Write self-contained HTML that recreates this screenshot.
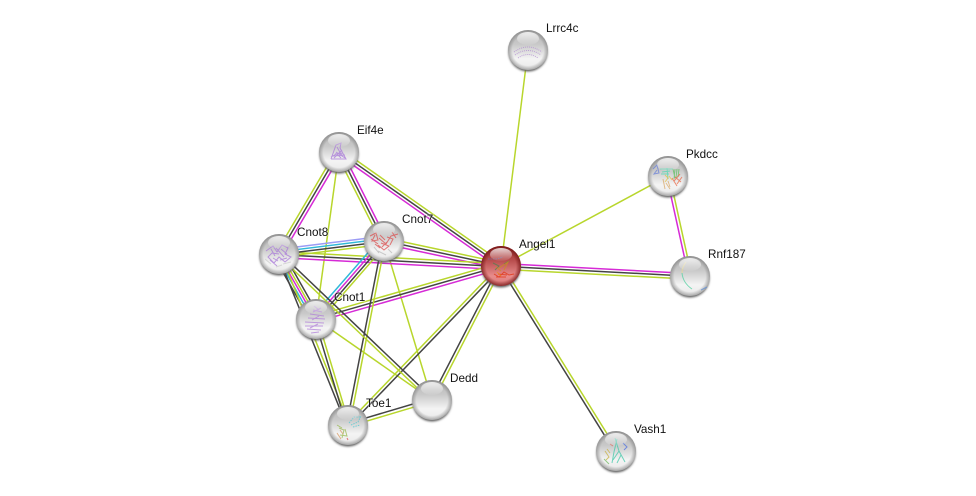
<!DOCTYPE html>
<html><head><meta charset="utf-8"><style>
html,body{margin:0;padding:0;background:#fff}
svg{display:block}
text{font:11.7px "Liberation Sans",sans-serif;fill:#111;paint-order:stroke;stroke:rgba(255,255,255,.4);stroke-width:1.5px}
.e path,.e line{fill:none;stroke-width:1.5}
.g{stroke:#b8d62c}.k{stroke:#444}.m{stroke:#d62ad6}.c{stroke:#2fb8d8}.p{stroke:#9c9cf5}
.s path{fill:none;stroke-width:1;opacity:.75}
</style></head><body>
<svg width="976" height="496" viewBox="0 0 976 496" xmlns="http://www.w3.org/2000/svg">
<defs>
<linearGradient id="b" x1="0" y1="0" x2="0" y2="1"><stop offset="0" stop-color="#b4b4b4"/><stop offset=".35" stop-color="#c8c8c8"/><stop offset=".72" stop-color="#f4f4f4"/><stop offset="1" stop-color="#e8e8e8"/></linearGradient>
<linearGradient id="r" x1="0" y1="0" x2="0" y2="1"><stop offset="0" stop-color="#983030"/><stop offset=".35" stop-color="#b84c4c"/><stop offset=".75" stop-color="#e88c8c"/><stop offset="1" stop-color="#d87878"/></linearGradient>
<radialGradient id="ed" cx=".5" cy=".5" r=".5"><stop offset=".78" stop-color="#666" stop-opacity="0"/><stop offset="1" stop-color="#666" stop-opacity=".5"/></radialGradient>
<radialGradient id="edr" cx=".5" cy=".5" r=".5"><stop offset=".75" stop-color="#701010" stop-opacity="0"/><stop offset="1" stop-color="#701010" stop-opacity=".75"/></radialGradient>
<linearGradient id="h" x1="0" y1="0" x2="0" y2="1"><stop offset="0" stop-color="#fff" stop-opacity=".8"/><stop offset="1" stop-color="#fff" stop-opacity=".05"/></linearGradient>
<filter id="bl" x="-30%" y="-30%" width="160%" height="160%"><feGaussianBlur stdDeviation="1"/></filter>
<filter id="sf" x="-20%" y="-20%" width="140%" height="140%"><feGaussianBlur stdDeviation=".35"/></filter>
<g id="base"><circle cx="0" cy="2" r="19.5" fill="#5c5c5c" filter="url(#bl)"/><circle r="20" fill="url(#b)"/><circle r="20" fill="url(#ed)"/></g>
<g id="gloss"><ellipse cx="0" cy="-11.5" rx="11" ry="6.5" fill="url(#h)"/></g>
</defs>
<g class="e">
<line class="g" x1="501" y1="266" x2="528" y2="50"/>
<line class="g" x1="501" y1="266" x2="668" y2="176"/>
<line class="g" x1="384" y1="241" x2="432" y2="400"/>
<line class="g" x1="316" y1="319" x2="432" y2="400"/>
<line class="g" x1="339" y1="152" x2="316" y2="319"/>
<g transform="translate(339 152) rotate(35.13)"><path class="g" d="M0-3.2H198"/><path class="k" d="M0-.3H198"/><path class="m" d="M0 2.6H198"/></g>
<g transform="translate(384 241) rotate(12.06)"><path class="g" d="M0-3.2H120"/><path class="k" d="M0-.2H120"/><path class="m" d="M0 2.8H120"/></g>
<g transform="translate(279 254) rotate(3.09)"><path class="g" d="M0-2.4H222"/><path class="k" d="M0 .6H222"/><path class="m" d="M0 3.6H222"/></g>
<g transform="translate(316 319) rotate(-15.99)"><path class="g" d="M0-3.2H192"/><path class="k" d="M0-.2H192"/><path class="m" d="M0 2.8H192"/></g>
<g transform="translate(348 425) rotate(-46.1)"><path class="g" d="M0-1.5H221"/><path class="k" d="M0 1.5H221"/></g>
<g transform="translate(432 400) rotate(-62.76)"><path class="k" d="M0-1.5H151"/><path class="g" d="M0 1.5H151"/></g>
<g transform="translate(501 266) rotate(58.13)"><path class="g" d="M0-1.5H218"/><path class="k" d="M0 1.5H218"/></g>
<g transform="translate(501 266) rotate(3.03)"><path class="m" d="M0-2.5H189"/><path class="k" d="M0 .2H189"/><path class="g" d="M0 3.2H189"/></g>
<g transform="translate(668 176) rotate(77.59)"><path class="g" d="M0-1.6H102"/><path class="m" d="M0 1.4H102"/></g>
<g transform="translate(279 254) rotate(-59.53)"><path class="g" d="M0-3H118"/><path class="k" d="M0 0H118"/><path class="m" d="M0 3H118"/></g>
<g transform="translate(339 152) rotate(63.18)"><path class="g" d="M0 3H100"/><path class="k" d="M0 0H100"/><path class="m" d="M0-3H100"/></g>
<g transform="translate(279 254) rotate(-7.06)"><path class="p" d="M0-4.8H106"/><path class="c" d="M0-2.2H106"/><path class="k" d="M0 .5H106"/><path class="g" d="M0 3.2H106"/></g>
<g transform="translate(316 319) rotate(-48.9)"><path class="c" d="M0-4.4H103"/><path class="m" d="M0-1.5H103"/><path class="k" d="M0 1.3H103"/><path class="g" d="M0 4H103"/></g>
<g transform="translate(348 425) rotate(-78.93)"><path class="k" d="M0-1.5H187"/><path class="g" d="M0 1.5H187"/></g>
<g transform="translate(279 254) rotate(60.35)"><path class="k" d="M0 5.6H75"/><path class="c" d="M0 3.1H75"/><path class="m" d="M0 .6H75"/><path class="g" d="M0-1.6H75"/><path class="k" d="M0-4.2H75"/></g>
<g transform="translate(279 254) rotate(68.03)"><path class="k" d="M0 1.5H184"/><path class="g" d="M0-1.5H184"/></g>
<g transform="translate(279 254) rotate(43.66)"><path class="k" d="M0-1.5H211"/><path class="g" d="M0 1.5H211"/></g>
<g transform="translate(316 319) rotate(73.2)"><path class="k" d="M0 1.5H111"/><path class="g" d="M0-1.5H111"/></g>
<g transform="translate(348 425) rotate(-16.57)"><path class="k" d="M0-1.6H88"/><path class="g" d="M0 1.6H88"/></g>
</g>

<!-- Lrrc4c -->
<g transform="translate(528 50)"><use href="#base"/><g class="s" filter="url(#sf)"><path stroke="#b08ad0" stroke-dasharray="1 1" d="M-14 2Q0-8 14 2M-13 5Q0-4 13 5M-10 8Q0 1 10 8"/></g><use href="#gloss"/></g>
<!-- Eif4e -->
<g transform="translate(339 152)"><use href="#base"/><g class="s" filter="url(#sf)"><path stroke="#a878d8" d="M-8 7L-3-7L2-9L1-4L7 7L-8 7M-6 4L6 3M-5 6L3-2M-3 0L6 6M-8 5L-1 1M-2-5L3 4M-4 2L4 1M-1 3L2 6"/></g><use href="#gloss"/></g>
<!-- Pkdcc -->
<g transform="translate(668 176)"><use href="#base"/><g class="s" filter="url(#sf)"><path stroke="#6a80d8" d="M-15-7L-11-11L-9-3L-14-2L-11-6"/><path stroke="#50d8b0" d="M-8-7L5-7M-6-4L2-5M-1-8L0 3M-7-2L1-2"/><path stroke="#60c060" d="M5-7L7 2M7-7L6 3M9-7L8 2M11-7L10 1"/><path stroke="#e8c040" d="M-3-1L0 2L-3 6M1 0L4 4"/><path stroke="#e86848" d="M6 5L12-2M9 8L14 1M4 2L9 10M7 1L13 6"/><path stroke="#d8a868" d="M-5 3L-3 13M0 5L2 11M-2 7L2 13"/></g><use href="#gloss"/></g>
<!-- Cnot7 -->
<g transform="translate(384 241)"><use href="#base"/><g class="s" filter="url(#sf)"><path stroke="#dc4c4c" stroke-width="1.6" d="M-14-5L-8-8L-6-1L-12 0L-9-6M-5-3L2 3L7-5L14-7M-3 2L5 5L0 9L-6 4M3-4L9-2L6 4M-9 3L-4 7M-4-6L1-1M8-9L12-3M-2 6L3 1M-13-2L-6 3"/><path stroke="#bbb" d="M-6 10L2 14M4 8L8 12M-10 6L-5 12"/></g><use href="#gloss"/></g>
<!-- Cnot8 -->
<g transform="translate(279 254)"><use href="#base"/><g class="s" filter="url(#sf)"><path stroke="#a878d8" stroke-width="1.3" d="M-13-3L-6-8L-2-2L3-9L9-6L6 0L12 3L6 8L0 3L-5 9L-11 3L-7-1L0 0M-3-6L5 3M-9 6L-2 12M2-5L8 0M-8-5L-4 2M1 6L8 4M-6 4L-1 7"/><path stroke="#ccc" d="M-14 5L-8 10M4 10L12 8M-3 13L3 11"/></g><use href="#gloss"/></g>
<!-- Cnot1 -->
<g transform="translate(316 319)"><use href="#base"/><g class="s" filter="url(#sf)"><path stroke="#b080d8" stroke-width="1.2" d="M-2-13L3-9M-3-9L6-7M-6-5L8-3M-8-1L9 0M-11 3L8 4M-11 7L7 7M-9 10L5 11M-5 14L3 13M-3-7L5-11M-4 1L3-3M-6 9L2 5"/></g><use href="#gloss"/></g>
<!-- Toe1 -->
<g transform="translate(348 425)"><use href="#base"/><g class="s" filter="url(#sf)"><path stroke="#50c8d0" stroke-dasharray="1.5 1" d="M1-2L6-8L12-8M3 0L10-3L13-9M5 2L12 0"/><path stroke="#9ab850" d="M-9 3L-4 5L-6 13M-3 4L-1 11L-8 10M-11 0L-6 3"/><path stroke="#d89860" d="M-11 8L-7 14M-8 5L-5 9"/><path stroke="#e04848" d="M-1 13L0 15"/></g><use href="#gloss"/></g>
<!-- Dedd -->
<g transform="translate(432 400)"><use href="#base"/><use href="#gloss"/></g>
<!-- Vash1 -->
<g transform="translate(616 451)"><use href="#base"/><g class="s" filter="url(#sf)"><path stroke="#40c8a8" stroke-width="1.2" d="M-1-13L3 0L9 11M1-12L-2 1L-4 12M3 0L-3 9M5 4L1 12"/><path stroke="#5070e0" d="M7-8L11-4L8-1"/><path stroke="#d86858" d="M-6-7L-3-5"/><path stroke="#c8b040" d="M-11 0L-7 6L-10 9M-9-2L-6 2"/><path stroke="#70b860" d="M-12 8L-7 13"/></g><use href="#gloss"/></g>
<!-- Rnf187 -->
<g transform="translate(690 276)"><use href="#base"/><g class="s" filter="url(#sf)"><path stroke="#e8d890" d="M-4-14Q-8-9-8-3"/><path stroke="#50d0a0" d="M-8-3Q-7 7 2 13"/><path stroke="#6090d8" d="M11 14L17 11"/></g><use href="#gloss"/></g>
<!-- Angel1 -->
<g transform="translate(501 266)"><circle cx="0" cy="2" r="19.5" fill="#5c5c5c" filter="url(#bl)"/><circle r="20" fill="url(#r)"/><circle r="20" fill="url(#edr)"/><g class="s" filter="url(#sf)"><path stroke="#6a70a8" stroke-dasharray="1.5 1" d="M-13-7L-4-7L2-9"/><path stroke="#508050" d="M-8-3L-2 0L-6 4M3-2L8-5"/><path stroke="#c89020" d="M-2 2L7-4L3 4M-5 1L0 5"/><path stroke="#e03010" stroke-width="1.5" d="M-7 8L-2 11L3 6L8 9L13 8M-5 11L5 11M-3 8L6 9"/><path stroke="#e89020" d="M-4 6L0 10"/></g><use href="#gloss"/></g>

<text x="546" y="32">Lrrc4c</text>
<text x="357" y="134">Eif4e</text>
<text x="686" y="158">Pkdcc</text>
<text x="402" y="223">Cnot7</text>
<text x="519" y="248">Angel1</text>
<text x="297" y="236">Cnot8</text>
<text x="708" y="258">Rnf187</text>
<text x="334" y="301">Cnot1</text>
<text x="450" y="382">Dedd</text>
<text x="366" y="407">Toe1</text>
<text x="634" y="433">Vash1</text>
</svg>
</body></html>
